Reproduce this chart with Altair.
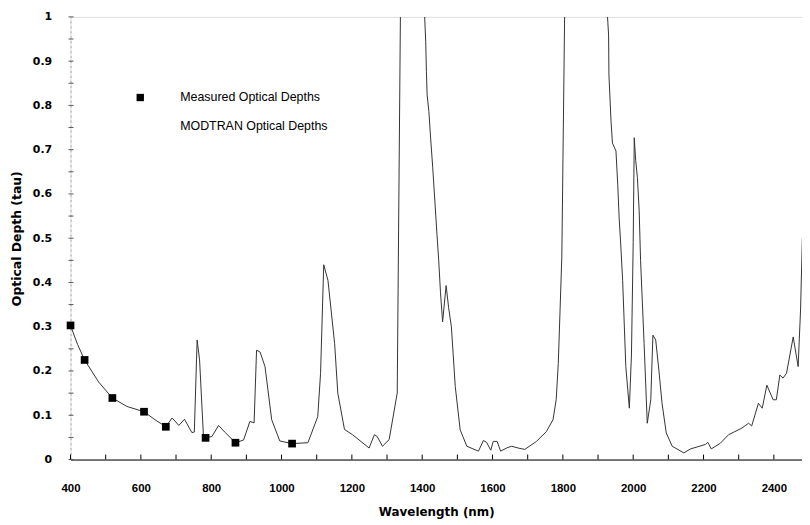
import altair as alt
import pandas as pd

# Measured optical depths (squares)
meas_wl = [400, 440, 519, 609, 671, 784, 869, 1030]
meas_tau = [0.303, 0.225, 0.139, 0.108, 0.074, 0.049, 0.038, 0.036]

# MODTRAN optical depths (line); values above 1 run off the top of the plot
mod_wl = [400, 420, 440, 480, 519, 560, 609, 640, 671, 689, 708, 724, 745, 752,
          760, 767, 778, 784, 802, 821, 840, 869, 892, 910, 922, 929, 939, 953,
          972, 995, 1030, 1075, 1103, 1111, 1120, 1132, 1151, 1160, 1179, 1202,
          1249, 1264, 1272, 1287, 1306, 1329, 1338, 1360, 1390, 1407, 1410, 1412,
          1414, 1419, 1424, 1430, 1436, 1442, 1447, 1452, 1458, 1468, 1475, 1483,
          1494, 1508, 1527, 1560, 1574, 1583, 1595, 1602, 1613, 1623, 1640, 1654,
          1678, 1692, 1725, 1753, 1772, 1781, 1787, 1792, 1797, 1805, 1850, 1900,
          1927, 1930, 1931, 1937, 1941, 1951, 1956, 1960, 1965, 1970, 1979, 1989,
          1995, 2000, 2003, 2007, 2012, 2017, 2021, 2031, 2040, 2050, 2056, 2064,
          2073, 2082, 2094, 2111, 2144, 2163, 2205, 2212, 2222, 2248, 2271, 2309,
          2328, 2337, 2356, 2367, 2380, 2398, 2407, 2417, 2426, 2436, 2455, 2469,
          2476, 2481]
mod_tau = [0.303, 0.260, 0.225, 0.175, 0.139, 0.120, 0.108, 0.090, 0.074, 0.094,
           0.077, 0.091, 0.061, 0.062, 0.270, 0.225, 0.052, 0.049, 0.052, 0.077,
           0.061, 0.038, 0.044, 0.086, 0.083, 0.247, 0.243, 0.210, 0.090, 0.042,
           0.036, 0.038, 0.097, 0.195, 0.440, 0.405, 0.262, 0.150, 0.068, 0.056,
           0.026, 0.056, 0.052, 0.030, 0.045, 0.150, 1.000, 1.500, 1.500, 1.000,
           0.944, 0.876, 0.824, 0.786, 0.726, 0.659, 0.584, 0.509, 0.449, 0.378,
           0.311, 0.393, 0.344, 0.300, 0.165, 0.067, 0.030, 0.019, 0.043, 0.039,
           0.021, 0.041, 0.041, 0.019, 0.026, 0.030, 0.025, 0.023, 0.041, 0.063,
           0.090, 0.135, 0.217, 0.337, 0.457, 1.000, 1.500, 1.500, 1.000, 0.959,
           0.869, 0.764, 0.715, 0.697, 0.622, 0.547, 0.480, 0.404, 0.210, 0.116,
           0.236, 0.490, 0.727, 0.676, 0.637, 0.562, 0.449, 0.262, 0.082, 0.135,
           0.281, 0.270, 0.202, 0.127, 0.060, 0.030, 0.015, 0.024, 0.034, 0.039,
           0.024, 0.037, 0.056, 0.071, 0.082, 0.076, 0.127, 0.116, 0.168, 0.135,
           0.135, 0.191, 0.184, 0.195, 0.277, 0.210, 0.340, 0.500]

x_labels = [400, 600, 800, 1000, 1200, 1400, 1600, 1800, 2000, 2200, 2400]
x_ticks = [400, 500, 600, 700, 800, 900, 1000, 1100, 1200, 1300, 1400, 1500, 1600,
           1700, 1800, 1900, 2000, 2100, 2200, 2300, 2400]
y_labels = [0, 0.1, 0.2, 0.3, 0.4, 0.5, 0.6, 0.7, 0.8, 0.9, 1.0]
y_ticks = [0, 0.05, 0.1, 0.15, 0.2, 0.25, 0.3, 0.35, 0.4, 0.45, 0.5, 0.55, 0.6,
           0.65, 0.7, 0.75, 0.8, 0.85, 0.9, 0.95, 1.0]

series_names = ["Measured Optical Depths", "MODTRAN Optical Depths"]

W, H = 737, 446

mod_df = pd.DataFrame({"wl": mod_wl, "tau": mod_tau})
meas_df = pd.DataFrame({"wl": meas_wl, "tau": meas_tau, "series": series_names[0]})
xt_df = pd.DataFrame({"wl": x_ticks})
yt_df = pd.DataFrame({"tau": y_ticks})

xscale = alt.Scale(domain=[400, 2480], nice=False, zero=False)
yscale = alt.Scale(domain=[0, 1], nice=False)

x_axis = alt.Axis(
    values=x_labels, format="d", title="Wavelength (nm)", ticks=False, tickSize=0,
    labelPadding=23, labelFont="Liberation Sans", labelFontWeight="bold",
    labelFontSize=11.5, labelColor="black", labelFlush=False, labelOverlap=False,
    labelBound=False, domainColor="black", domainWidth=1,
    titleFont="DejaVu Sans", titleFontWeight="bold", titleFontSize=12,
    titleColor="black", titlePadding=13, grid=False,
)
y_axis = alt.Axis(
    values=y_labels, title="Optical Depth (tau)", ticks=False, tickSize=0,
    labelPadding=19, labelFont="DejaVu Sans", labelFontWeight="bold",
    labelFontSize=11, labelColor="black", labelFlush=False, labelOverlap=False,
    labelExpr="datum.value == 0 ? '0' : datum.value == 1 ? '1' : format(datum.value, '.1f')",
    domainColor="#aaaaaa", domainDash=[2, 3], domainWidth=1,
    titleFont="DejaVu Sans", titleFontWeight="bold", titleFontSize=12.5,
    titleColor="black", titlePadding=9, grid=False,
)

X = alt.X("wl:Q", scale=xscale, axis=x_axis)
Y = alt.Y("tau:Q", scale=yscale, axis=y_axis)

line = alt.Chart(mod_df).mark_line(color="#333333", strokeWidth=1, clip=True).encode(
    x=X, y=Y,
)

points = alt.Chart(meas_df).mark_point(filled=True, color="black", size=60, opacity=1).encode(
    x=X, y=Y,
    shape=alt.Shape(
        "series:N",
        scale=alt.Scale(domain=series_names, range=["square", "stroke"]),
        legend=alt.Legend(
            title=None, orient="none", legendX=64, legendY=75, padding=0,
            labelOffset=34, rowPadding=16, symbolSize=55, symbolFillColor="black",
            symbolStrokeWidth=0, labelFont="Liberation Sans", labelFontSize=12.5,
            labelColor="black",
        ),
    ),
)

xticks = alt.Chart(xt_df).mark_rule(color="black", strokeWidth=1).encode(
    x=X,
    y=alt.value(H),
    y2=alt.value(H - 5),
)

yticks = alt.Chart(yt_df).mark_rule(color="#555555", strokeWidth=1).encode(
    y=Y,
    x=alt.value(-2),
    x2=alt.value(3),
)

chart = alt.layer(line, xticks, yticks, points).properties(
    width=W, height=H,
    autosize=alt.AutoSizeParams(type="none"),
    padding={"left": 63, "top": 7, "right": 0, "bottom": 63},
).configure_view(stroke=None).configure(background="white")

chart.save("out.html", embed_options={"renderer": "svg", "actions": False})
